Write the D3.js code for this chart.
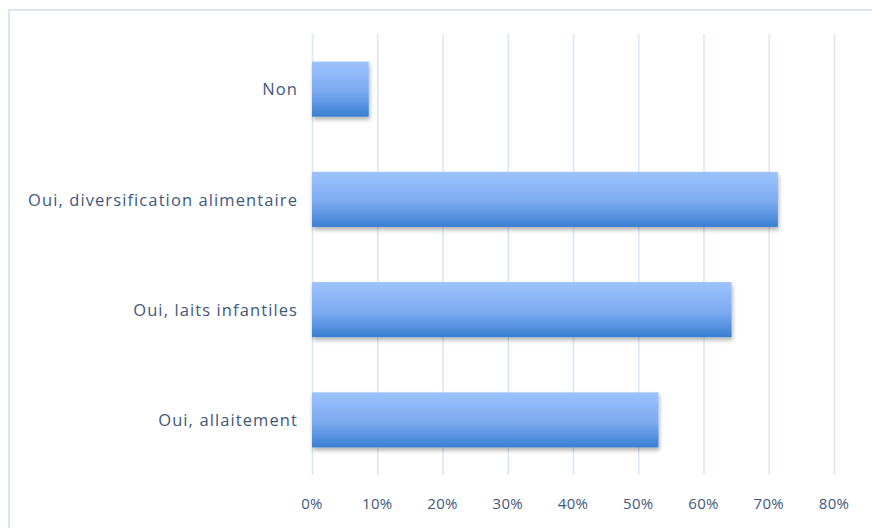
<!DOCTYPE html>
<html>
<head>
<meta charset="utf-8">
<script src="https://cdn.jsdelivr.net/npm/d3@7"></script>
<style>
  body { margin: 0; background: #fff; overflow: hidden; }
  svg { display: block; }
  svg text { font-family: "Open Sans", Lato, sans-serif; fill: #42587a; }
</style>
</head>
<body>
<svg id="chart" width="872" height="528"></svg>
<script>
// categories top to bottom
const categories = ['Non', 'Oui, diversification alimentaire', 'Oui, laits infantiles', 'Oui, allaitement'];
// share of answers (%)
const values = [8.7, 71.4, 64.3, 53.1];
const ticks = [0, 10, 20, 30, 40, 50, 60, 70, 80];

const data = categories.map((c, i) => ({ label: c, value: values[i] }));

const svg = d3.select('#chart');
const margin = { top: 34, right: 38, bottom: 53, left: 312 };
const width = +svg.attr('width');
const height = +svg.attr('height');
const innerWidth = width - margin.left - margin.right;
const innerHeight = height - margin.top - margin.bottom;

// outer frame, only top and left edges are inside the picture
svg.append('path')
  .attr('d', `M9,${height} V10 H${width}`)
  .attr('fill', 'none')
  .attr('stroke', '#dbe5f3')
  .attr('stroke-width', 2);

const defs = svg.append('defs');
const grad = defs.append('linearGradient')
  .attr('id', 'barGrad')
  .attr('x1', 0).attr('y1', 0).attr('x2', 0).attr('y2', 1);
grad.append('stop').attr('offset', '0%').attr('stop-color', '#9dc3fc');
grad.append('stop').attr('offset', '55%').attr('stop-color', '#7aaaf0');
grad.append('stop').attr('offset', '100%').attr('stop-color', '#3b7ed2');

const shadow = defs.append('filter')
  .attr('id', 'shadow')
  .attr('x', '-5%').attr('y', '-10%').attr('width', '115%').attr('height', '140%');
shadow.append('feDropShadow')
  .attr('dx', 1).attr('dy', 3)
  .attr('stdDeviation', 2)
  .attr('flood-color', '#000')
  .attr('flood-opacity', 0.3);

const xScale = d3.scaleLinear()
  .domain([0, 80])
  .range([0, innerWidth]);

const yScale = d3.scaleBand()
  .domain(categories)
  .range([0, innerHeight])
  .paddingInner(0.5)
  .paddingOuter(0.25);

const g = svg.append('g')
  .attr('transform', `translate(${margin.left}, ${margin.top})`);

// vertical gridlines
const grid = g.append('g')
  .attr('transform', `translate(0, ${innerHeight})`)
  .call(d3.axisBottom(xScale)
    .tickValues(ticks)
    .tickSize(-innerHeight)
    .tickFormat(''));
grid.select('.domain').remove();
grid.selectAll('text').remove();
grid.selectAll('line').attr('stroke', '#dbe5f3').attr('stroke-width', 1.5);

// percent labels under the plot
g.append('g')
  .selectAll('text')
  .data(ticks)
  .enter()
  .append('text')
    .attr('x', d => xScale(d))
    .attr('y', innerHeight + 28)
    .attr('dominant-baseline', 'central')
    .attr('text-anchor', 'middle')
    .style('font-size', '15px')
    .style('letter-spacing', '0.3px')
    .text(d => d + '%');

// category labels
const yAxis = g.append('g')
  .call(d3.axisLeft(yScale).tickSize(0).tickPadding(14));
yAxis.select('.domain').remove();
yAxis.selectAll('text')
  .style('font-size', '16.5px')
  .style('letter-spacing', '1.1px')
  .attr('dy', '0.38em')
  .attr('fill', '#42587a');

g.selectAll('.bar')
  .data(data)
  .enter()
  .append('rect')
    .attr('class', 'bar')
    .attr('x', 0)
    .attr('y', d => yScale(d.label))
    .attr('width', d => xScale(d.value))
    .attr('height', yScale.bandwidth())
    .attr('fill', 'url(#barGrad)')
    .attr('filter', 'url(#shadow)');
</script>
</body>
</html>
